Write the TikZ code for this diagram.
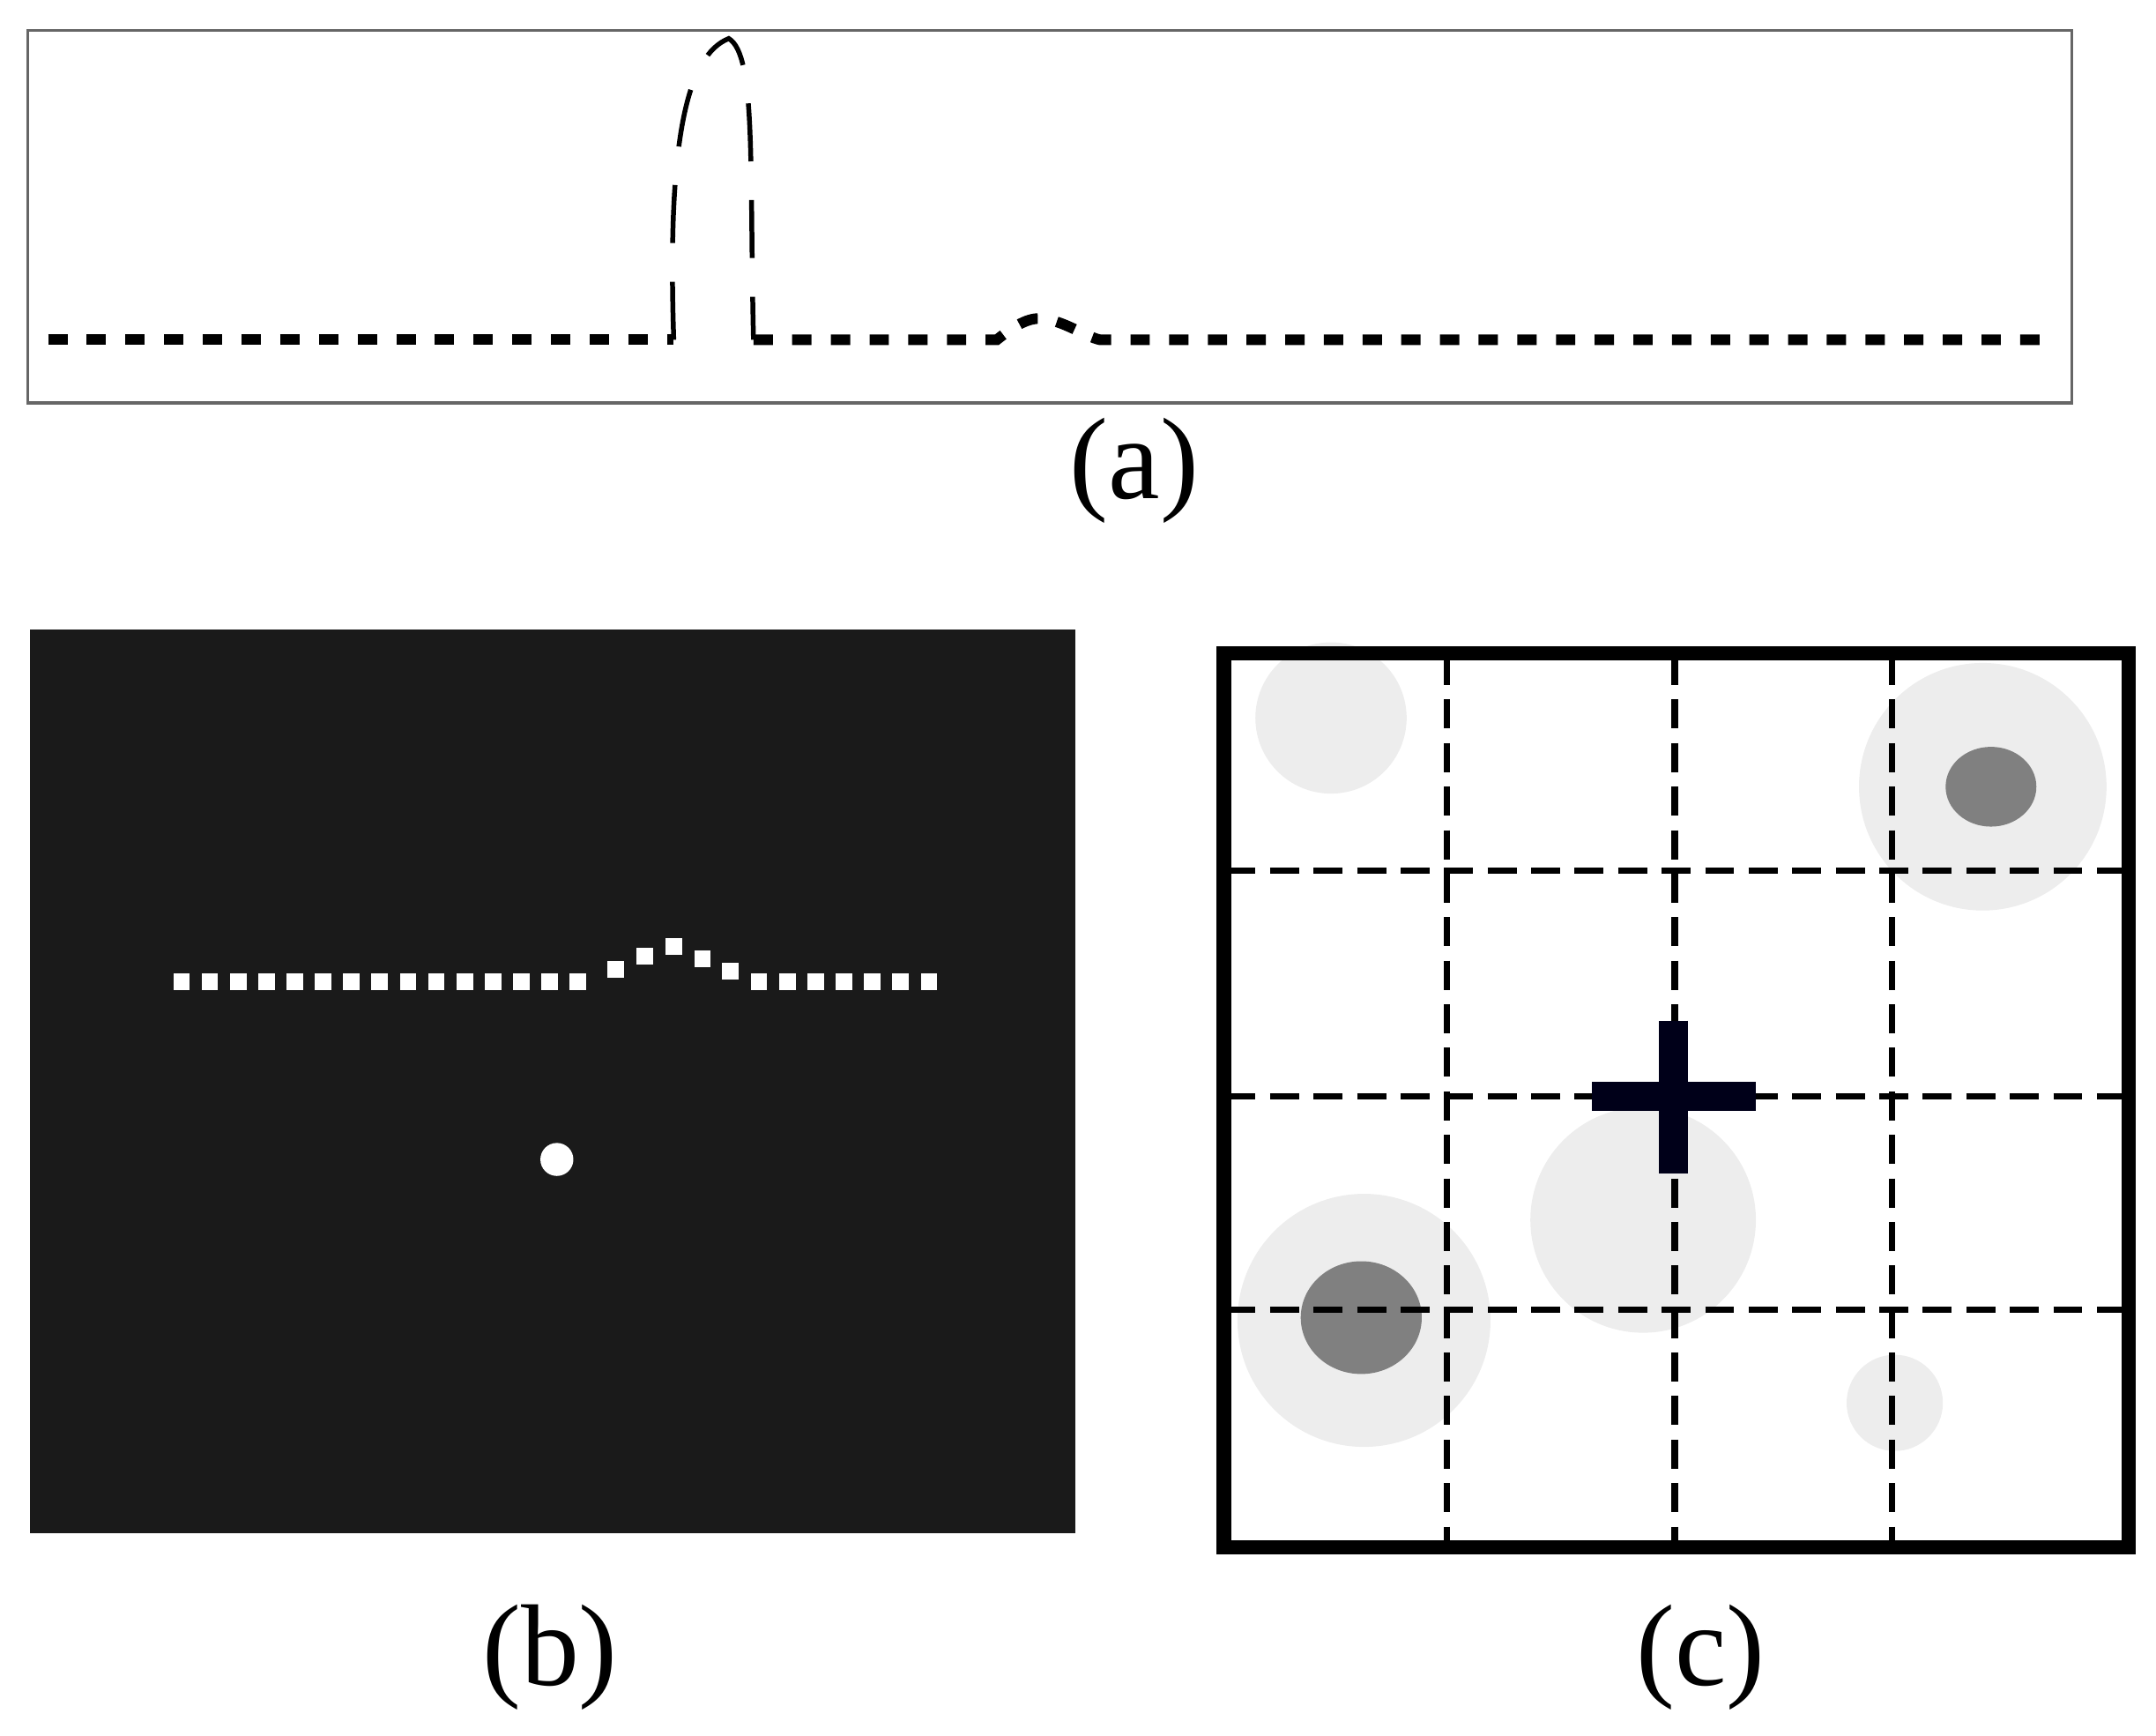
\documentclass[tikz,border=0pt]{standalone}
\usepackage{fontspec}
\setmainfont{Liberation Serif}
\usetikzlibrary{positioning}
\definecolor{panelblack}{HTML}{1A1A1A}
\definecolor{halo}{HTML}{EDEDED}
\definecolor{spot}{HTML}{808080}
\begin{document}
\begin{tikzpicture}[x=0.01cm,y=-0.01cm,
        caption/.style={font=\fontsize{24}{28}\selectfont},
        dotted trace/.style={draw, line width=2.2pt, dash pattern=on 4pt off 4pt},
        dashed trace/.style={draw, line width=1pt, dash pattern=on 12pt off 8pt},
        grid line/.style={draw, line width=1.3pt, dash pattern=on 6pt off 3pt},
        light spot/.style={fill=halo},
        dark spot/.style={fill=spot},
        pixel/.style={fill=white, minimum size=0.12cm, inner sep=0pt},
    ]
	\useasboundingbox (0,0) rectangle (1568,1262);
	% (a)
	\draw[black!60, line width=0.6pt] (20,22) rectangle (1507,293);
	\coordinate (a_l) at (35,247);
	\coordinate (a_p0) at (490,247);
	\coordinate (a_p1) at (548,247);
	\coordinate (a_b0) at (725,247);
	\coordinate (a_b1) at (800,247);
	\coordinate (a_r) at (1490,247);
	\draw[dotted trace] (a_l) -- (a_p0);
	\draw[dashed trace] (a_p0) .. controls (485,100) and (500,40) .. (530,28)
		.. controls (550,40) and (545,120) .. (a_p1);
	\draw[dotted trace] (a_p1) -- (a_b0) .. controls (740,235) and (750,230) .. (760,232)
		.. controls (775,234) and (790,245) .. (a_b1) -- (a_r);
	\node[caption] (cap_a) at (825,342) {(a)};
	% (b)
	\fill[panelblack] (22,458) rectangle (782,1115);
	\foreach \i in {0,...,14}
		\node[pixel] (px_\i) at (132+20.6*\i,714) {};
	\node[pixel] at (448,705) {};
	\node[pixel] at (469,695) {};
	\node[pixel] at (490,688) {};
	\node[pixel] at (511,697) {};
	\node[pixel] at (531,706) {};
	\foreach \i in {0,...,6}
		\node[pixel] at (552+20.6*\i,714) {};
	\fill[white] (405,843) circle (12);
	\node[caption] (cap_b) at (400,1205) {(b)};
	% (c)
	\fill[light spot] (968,522) circle (55);
	\fill[light spot] (1442,572) circle (90);
	\fill[light spot] (992,960) circle (92);
	\fill[light spot] (1195,887) circle (82);
	\fill[light spot] (1378,1020) circle (35);
	\fill[dark spot] (1448,572) ellipse (33 and 29);
	\fill[dark spot] (990,958) ellipse (44 and 41);
	\foreach \x in {1052,1218,1376}
		\draw[grid line] (\x,477) -- (\x,1123);
	\foreach \y in {633,797,952}
		\draw[grid line] (892,\y) -- (1546,\y);
	\draw[line width=3pt] (890,475) rectangle (1548,1125);
	\coordinate (cross_t) at (1217,742);
	\coordinate (cross_b) at (1217,853);
	\coordinate (cross_l) at (1158,797);
	\coordinate (cross_r) at (1277,797);
	\draw[line width=6pt, black!90!blue] (cross_t) -- (cross_b);
	\draw[line width=6pt, black!90!blue] (cross_l) -- (cross_r);
	\node[caption] (cap_c) at (1237,1205) {(c)};
\end{tikzpicture}
\end{document}
